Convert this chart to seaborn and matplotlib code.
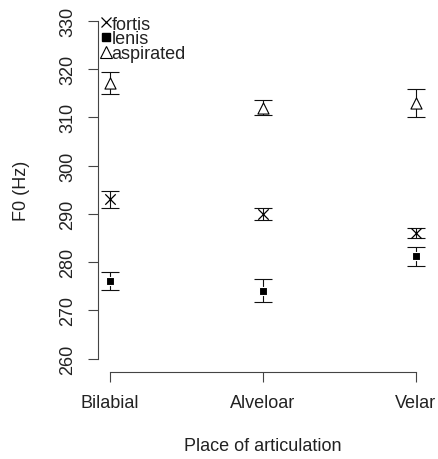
import matplotlib
matplotlib.use("Agg")
import matplotlib.pyplot as plt
from matplotlib.lines import Line2D
import seaborn as sns
import pandas as pd

places = ["Bilabial", "Alveloar", "Velar"]
series = ["fortis", "lenis", "aspirated"]
fortis_mean = [293.0, 290.0, 286.0]
fortis_err = [1.8, 1.25, 1.05]
lenis_mean = [276.1, 274.1, 281.2]
lenis_err = [1.9, 2.4, 1.95]
aspirated_mean = [317.1, 312.0, 313.0]
aspirated_err = [2.25, 1.55, 3.0]
y_ticks = [260, 270, 280, 290, 300, 310, 320, 330]

sns.set_theme(style="ticks")
plt.rcParams["font.family"] = ["Liberation Sans", "DejaVu Sans"]

W, H = 438, 460
fig = plt.figure(figsize=(W / 100, H / 100), dpi=100)
ax = fig.add_axes([97.8 / W, (H - 373) / H, 330.4 / W, 364.5 / H])

df = pd.DataFrame({
    "place": places * 3,
    "pos": list(range(3)) * 3,
    "series": sum([[s] * 3 for s in series], []),
    "mean": fortis_mean + lenis_mean + aspirated_mean,
    "err": fortis_err + lenis_err + aspirated_err,
})

styles = {
    "fortis": dict(marker="x", ms=7.5, mew=0.9),
    "lenis": dict(marker="s", ms=6.0, mew=0.8),
}

for s in series:
    d = df[df["series"] == s]
    ax.errorbar(d["pos"], d["mean"], yerr=d["err"], fmt="none", ecolor="#111111",
                elinewidth=0.8, capsize=6.8, capthick=0.8, zorder=2)
    if s in styles:
        st = styles[s]
        sns.scatterplot(x=d["pos"], y=d["mean"], marker=st["marker"], s=st["ms"] ** 2,
                        color="black", linewidth=st["mew"], ax=ax, zorder=3, legend=False)

tri = df[df["series"] == "aspirated"]
ax.scatter(tri["pos"], tri["mean"], marker="^", s=8.0 ** 2, facecolors="white",
           edgecolors="black", linewidths=0.8, zorder=4)

ax.set_xlim(-0.08, 2.08)
ax.set_ylim(257.2, 332.8)
ax.set_xticks(range(3))
ax.set_xticklabels(places)
ax.set_yticks(y_ticks)
ax.set_yticklabels([str(v) for v in y_ticks])

for side in ["top", "right"]:
    ax.spines[side].set_visible(False)
ax.spines["left"].set_bounds(260, 330)
ax.spines["bottom"].set_bounds(0, 2)
for side in ["left", "bottom"]:
    ax.spines[side].set_color("#444444")
    ax.spines[side].set_linewidth(0.8)

ax.tick_params(axis="both", length=7.2, width=0.8, color="#444444",
               labelsize=13, labelcolor="#222222", pad=8.5)
ax.tick_params(axis="y", labelrotation=90)
for lab in ax.get_yticklabels():
    lab.set_verticalalignment("center")

ax.set_xlabel("Place of articulation", fontsize=13, color="#222222")
ax.set_ylabel("F0 (Hz)", fontsize=13, color="#222222")
ax.xaxis.set_label_coords(0.5, -0.178)
ax.yaxis.set_label_coords(-0.205, 0.5)

handles = [
    Line2D([], [], linestyle="none", marker="x", ms=7.5, color="black", mew=0.9),
    Line2D([], [], linestyle="none", marker="s", ms=6.0, color="black"),
    Line2D([], [], linestyle="none", marker="^", ms=8.0, mfc="white", mec="black", mew=0.8),
]
leg = ax.legend(handles, series, loc="upper left", frameon=False, fontsize=13,
                bbox_to_anchor=(100.5 / W, 1 - 16.5 / H), bbox_transform=fig.transFigure,
                borderpad=0, borderaxespad=0, handlelength=0.6, handletextpad=0.0,
                labelspacing=-0.12)
for t in leg.get_texts():
    t.set_color("#222222")

fig.savefig("out.png", dpi=100)
